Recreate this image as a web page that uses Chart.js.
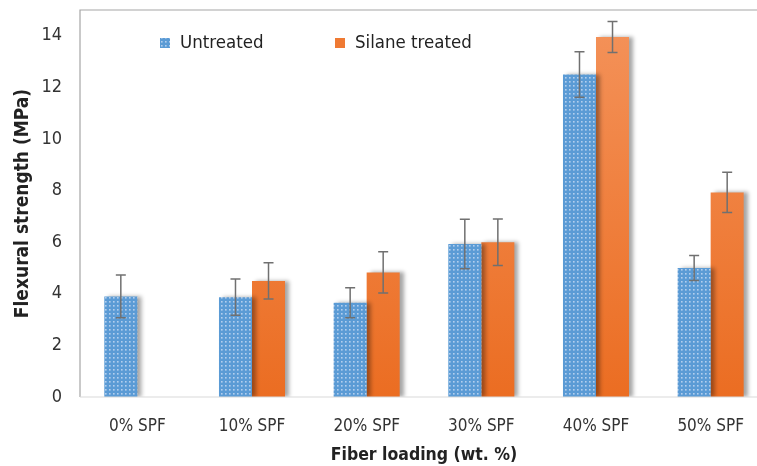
<html>
<head>
<meta http-equiv="Content-Type" content="text/html; charset=utf-8"/>
<title>Flexural strength</title>
<style>
  html, body { margin: 0; padding: 0; background: #fff; overflow: hidden; }
  #box { width: 757px; height: 466px; overflow: hidden; }
</style>
</head>
<body>
<div id="box">
  <canvas id="fx" width="780" height="466"></canvas>
</div>

<script src="https://cdn.jsdelivr.net/npm/chart.js@4/dist/chart.umd.min.js"></script>
<script type="text/javascript">

// data
var labels = ["0% SPF", "10% SPF", "20% SPF", "30% SPF", "40% SPF", "50% SPF"];
var untreated = [3.9, 3.87, 3.65, 5.93, 12.5, 5.0];
var untreatedErr = [0.83, 0.7, 0.58, 0.96, 0.88, 0.48];
var silane = [null, 4.5, 4.83, 6.0, 13.95, 7.93];
var silaneErr = [null, 0.7, 0.8, 0.9, 0.6, 0.78];

var FONT = "'Liberation Sans Narrow', 'DejaVu Sans Condensed', 'Liberation Sans', sans-serif";

// dotted blue fill
function dots()
{
    var c = document.createElement("canvas");
    c.width = 4; c.height = 4;
    var g = c.getContext("2d");
    g.fillStyle = "#5b9bd5";
    g.fillRect(0, 0, 4, 4);
    g.fillStyle = "#b3cfee";
    g.fillRect(1, 1, 1.6, 1.6);
    return g.createPattern(c, "repeat");
}
var blueFill = dots();

function orangeFill(context)
{
    var ch = context.chart;
    var a = ch.chartArea;
    if (!a) return "#ed7d31";
    var gr = ch.ctx.createLinearGradient(0, a.top, 0, a.bottom);
    gr.addColorStop(0, "#f4935b");
    gr.addColorStop(1, "#eb6d22");
    return gr;
}

var errs = [untreatedErr, silaneErr];

var shadowPlug = {
    id: "shadow",
    beforeDatasetDraw: function(ch) {
        var c = ch.ctx;
        c.save();
        c.shadowColor = "rgba(0,0,0,0.35)";
        c.shadowOffsetX = 4;
        c.shadowOffsetY = 0;
        c.shadowBlur = 4;
    },
    afterDatasetDraw: function(ch) {
        ch.ctx.restore();
    }
};

var extrasPlug = {
    id: "extras",
    afterDatasetsDraw: function(ch) {
        var c = ch.ctx;
        var y = ch.scales.y;
        var a = ch.chartArea;
        // error bars
        c.save();
        c.strokeStyle = "#707070";
        c.lineWidth = 1.5;
        for (var d = 0; d < ch.data.datasets.length; d++) {
            var meta = ch.getDatasetMeta(d);
            var vals = ch.data.datasets[d].data;
            for (var i = 0; i < vals.length; i++) {
                if (vals[i] == null) continue;
                var x = meta.data[i].x;
                var hi = y.getPixelForValue(vals[i] + errs[d][i]);
                var lo = y.getPixelForValue(vals[i] - errs[d][i]);
                c.beginPath();
                c.moveTo(x, hi); c.lineTo(x, lo);
                c.moveTo(x - 5, hi); c.lineTo(x + 5, hi);
                c.moveTo(x - 5, lo); c.lineTo(x + 5, lo);
                c.stroke();
            }
        }
        // frame
        c.strokeStyle = "#a6a6a6";
        c.lineWidth = 1.2;
        c.beginPath();
        c.moveTo(a.left, a.bottom); c.lineTo(a.left, a.top); c.lineTo(a.right, a.top); c.lineTo(a.right, a.bottom);
        c.stroke();
        c.strokeStyle = "#d9d9d9";
        c.beginPath();
        c.moveTo(a.left, a.bottom); c.lineTo(a.right, a.bottom);
        c.stroke();
        // legend
        var items = [[160, blueFill, ch.data.datasets[0].label], [335, "#ef7a33", ch.data.datasets[1].label]];
        c.font = "18.5px " + FONT;
        c.textBaseline = "middle";
        for (var k = 0; k < items.length; k++) {
            c.fillStyle = items[k][1];
            c.fillRect(items[k][0], 38, 10, 10);
            c.fillStyle = "#222";
            c.fillText(items[k][2], items[k][0] + 20, 43);
        }
        c.restore();
    }
};

var ctx = document.getElementById("fx").getContext("2d");
var myChart = new Chart(ctx, {
    type: "bar",
    data: {
        labels: labels,
        datasets: [{
            label: "Untreated",
            data: untreated,
            backgroundColor: blueFill,
            borderWidth: 0
        },
        {
            label: "Silane treated",
            data: silane,
            backgroundColor: orangeFill,
            borderWidth: 0
        }]
    },
    options: {
        responsive: false,
        animation: false,
        layout: { padding: { top: 10, right: 12, left: 0, bottom: 0 } },
        plugins: { legend: { display: false }, tooltip: { enabled: false } },
        datasets: { bar: { barPercentage: 1.0, categoryPercentage: 0.576 } },
        scales: {
            x: {
                grid: { display: false, drawTicks: false },
                border: { display: false },
                ticks: { color: "#333", font: { family: FONT, size: 17 }, padding: 19 },
                title: { display: true, text: "Fiber loading (wt. %)", color: "#222",
                         font: { family: FONT, size: 17.5, weight: "bold" }, padding: { top: 5, bottom: 0 } },
                afterFit: function(s) { s.height = 69; }
            },
            y: {
                min: 0, max: 15,
                grid: { display: false, drawTicks: false },
                border: { display: false },
                ticks: { stepSize: 2, includeBounds: false, color: "#333",
                         font: { family: FONT, size: 18 }, padding: 18 },
                title: { display: true, text: "Flexural strength (MPa)", color: "#222",
                         font: { family: FONT, size: 19, weight: "bold" }, padding: { top: 12, bottom: 0 } },
                afterFit: function(s) { s.width = 80; s.paddingTop = 0; }
            }
        }
    },
    plugins: [shadowPlug, extrasPlug]
});

</script>
</body>
</html>
